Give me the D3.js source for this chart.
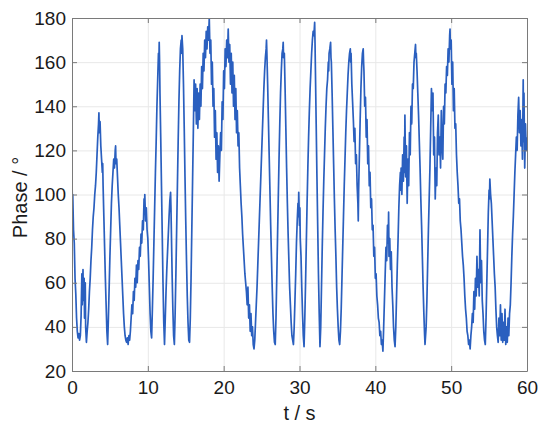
<!DOCTYPE html>
<html>
<head>
<meta charset="utf-8">
<script src="https://cdn.jsdelivr.net/npm/d3@7"></script>
<style>
    body { margin: 0; background: #fff; }
    #chart { width: 550px; height: 431px; }
    text { font-family: "Liberation Sans", Arial, Helvetica, sans-serif; fill: #1a1a1a; }
</style>
</head>
<body>
<div id="chart"></div>
<script>
// axis ticks
var xTicks = [0, 10, 20, 30, 40, 50, 60];
var yTicks = [20, 40, 60, 80, 100, 120, 140, 160, 180];

// phase trace: [t (s), phase (deg)]
var phaseTrace = [
    [0,107],[0.05,96],[0.1,100],[0.2,84],[0.3,78],[0.4,62],[0.5,55],[0.6,44],[0.7,38],[0.8,35],
    [0.9,37],[1.0,34],[1.1,36],[1.2,45],[1.3,64],[1.35,50],[1.45,66],[1.5,52],[1.6,62],[1.65,44],
    [1.75,60],[1.8,40],[1.9,33],[2.0,38],
    [2.1,42],[2.2,48],[2.3,56],[2.4,62],[2.5,70],[2.6,76],[2.7,84],[2.8,90],[2.9,94],[3.0,100],
    [3.1,104],[3.2,110],[3.3,118],[3.4,126],[3.5,132],[3.55,137],[3.6,128],[3.7,133],[3.8,122],[3.9,116],
    [4.0,110],[4.05,114],[4.1,104],[4.2,90],[4.3,76],[4.4,62],[4.5,50],[4.6,38],[4.7,32],
    [4.8,44],[4.9,58],[5.0,72],[5.1,84],[5.2,96],[5.3,104],[5.4,110],[5.5,116],[5.6,112],[5.7,120],
    [5.75,122],[5.8,114],[5.9,116],[6.0,108],[6.1,100],[6.2,94],[6.3,86],[6.4,78],[6.5,70],[6.6,62],
    [6.7,54],[6.8,46],[6.9,40],[7.0,36],[7.1,34],[7.2,33],[7.3,35],[7.4,32],[7.5,36],[7.6,34],[7.7,38],
    [7.8,44],[7.9,50],[8.0,46],[8.1,56],[8.2,52],[8.3,62],[8.4,58],[8.5,68],[8.6,60],[8.7,70],
    [8.8,66],[8.9,76],[9.0,72],[9.1,82],[9.2,78],[9.3,88],[9.4,84],[9.5,98],[9.55,92],[9.6,100],
    [9.7,88],[9.8,94],[9.9,84],[10.0,80],[10.1,70],[10.2,58],[10.3,46],[10.4,38],[10.5,35],
    [10.6,48],[10.7,62],[10.8,78],[10.9,94],[11.0,110],[11.1,124],[11.2,140],[11.3,152],[11.4,164],[11.45,158],
    [11.5,169],[11.55,160],[11.6,146],[11.7,126],[11.8,104],[11.9,82],[12.0,60],[12.1,42],[12.2,32],
    [12.3,44],[12.4,56],[12.5,66],[12.6,74],[12.7,82],[12.8,90],[12.9,97],[13.0,101],[13.05,94],[13.1,84],
    [13.2,64],[13.3,48],[13.4,36],[13.5,32],
    [13.6,46],[13.7,64],[13.8,84],[13.9,104],[14.0,124],[14.1,142],[14.2,156],[14.3,166],[14.4,170],[14.45,164],
    [14.5,172],[14.6,166],[14.7,150],[14.8,130],[14.9,108],[15.0,88],[15.1,70],[15.2,54],[15.3,42],[15.4,34],[15.5,33],
    [15.6,44],[15.7,62],[15.8,84],[15.9,106],[16.0,128],[16.1,152],[16.2,138],[16.3,150],[16.4,132],[16.5,148],
    [16.6,130],[16.7,146],[16.8,134],[16.9,150],[17.0,140],[17.1,158],[17.2,148],[17.3,164],[17.4,156],[17.5,170],
    [17.6,162],[17.7,174],[17.8,166],[17.9,176],[18.0,170],[18.1,180],[18.2,164],[18.3,170],[18.4,150],[18.5,160],
    [18.6,140],[18.7,148],[18.8,126],[18.9,138],[19.0,116],[19.1,128],[19.2,110],[19.3,122],[19.4,106],[19.5,118],
    [19.6,128],[19.7,120],[19.8,142],[19.9,134],[20.0,156],[20.1,148],[20.2,166],[20.3,158],[20.4,170],[20.5,162],
    [20.6,175],[20.7,160],[20.8,168],[20.9,150],[21.0,164],[21.1,146],[21.2,160],[21.3,140],[21.4,154],[21.5,134],
    [21.6,148],[21.7,128],[21.8,138],[21.9,122],[22.0,128],
    [22.1,112],[22.2,104],[22.3,96],[22.4,90],[22.5,82],[22.6,76],[22.7,70],[22.8,64],[22.9,60],[23.0,56],
    [23.1,50],[23.2,58],[23.3,44],[23.4,50],[23.5,38],[23.6,46],[23.7,36],[23.8,40],[23.9,32],[24.0,30],[24.1,34],
    [24.2,42],[24.3,50],[24.4,58],[24.5,68],[24.6,78],[24.7,88],[24.8,98],[24.9,108],[25.0,118],[25.1,128],
    [25.2,138],[25.3,148],[25.4,156],[25.5,162],[25.6,166],[25.65,170],[25.7,164],[25.8,150],[25.9,134],[26.0,118],
    [26.1,102],[26.2,86],[26.3,72],[26.4,58],[26.5,46],[26.6,38],[26.7,33],[26.8,32],
    [26.9,44],[27.0,62],[27.1,80],[27.2,98],[27.3,116],[27.4,132],[27.5,146],[27.6,156],[27.7,164],[27.8,166],
    [27.85,169],[27.9,162],[28.0,164],[28.1,148],[28.2,130],[28.3,112],[28.4,96],[28.5,82],[28.6,70],[28.7,58],
    [28.8,50],[28.9,42],[29.0,36],[29.1,34],[29.2,32],
    [29.3,40],[29.4,52],[29.5,64],[29.6,78],[29.7,88],[29.8,96],[29.85,90],[29.9,101],[30.0,86],[30.05,94],
    [30.1,80],[30.2,72],[30.3,58],[30.4,46],[30.5,36],[30.6,31],
    [30.7,44],[30.8,60],[30.9,78],[31.0,96],[31.1,112],[31.2,126],[31.3,138],[31.4,148],[31.5,156],[31.6,164],
    [31.7,170],[31.8,174],[31.9,172],[32.0,178],[32.05,168],[32.1,156],[32.2,132],[32.3,108],[32.4,86],[32.5,64],
    [32.6,46],[32.7,31],
    [32.8,40],[32.9,58],[33.0,76],[33.1,92],[33.2,106],[33.3,118],[33.4,130],[33.5,140],[33.6,148],[33.7,152],
    [33.8,160],[33.85,156],[33.9,164],[34.0,166],[34.1,169],[34.15,162],[34.2,160],[34.3,146],[34.4,130],[34.5,114],
    [34.6,98],[34.7,84],[34.8,72],[34.9,58],[35.0,48],[35.1,40],[35.2,34],[35.3,32],
    [35.4,38],[35.5,48],[35.6,62],[35.7,76],[35.8,90],[35.9,104],[36.0,116],[36.1,128],[36.2,138],[36.3,146],
    [36.4,154],[36.5,160],[36.6,164],[36.7,166],[36.75,160],[36.8,164],[36.9,150],[37.0,142],[37.1,134],[37.2,124],
    [37.3,130],[37.4,114],[37.5,118],[37.6,104],[37.7,96],[37.75,88],[37.8,102],[37.9,118],[38.0,134],[38.1,148],
    [38.2,158],[38.3,164],[38.4,166],[38.45,160],[38.5,156],[38.6,140],[38.7,144],[38.8,126],[38.9,134],[39.0,114],
    [39.1,122],[39.2,104],[39.3,110],[39.4,94],[39.5,98],[39.6,84],[39.7,86],[39.8,72],[39.9,76],[40.0,62],
    [40.1,64],[40.2,54],[40.3,50],[40.4,44],[40.5,42],[40.6,36],[40.7,38],[40.8,32],[40.9,34],[41.0,29],
    [41.1,40],[41.2,52],[41.3,64],[41.4,76],[41.5,70],[41.6,86],[41.7,78],[41.75,92],[41.8,72],[41.9,80],
    [42.0,66],[42.1,74],[42.2,58],[42.3,50],[42.4,40],[42.5,34],[42.6,31],
    [42.7,40],[42.8,54],[42.9,68],[43.0,80],[43.1,94],[43.2,104],[43.3,110],[43.35,102],[43.4,112],[43.5,100],
    [43.6,118],[43.7,106],[43.8,126],[43.85,110],[43.9,136],[44.0,108],[44.1,122],[44.2,96],[44.3,116],[44.4,104],
    [44.5,128],[44.6,118],[44.7,140],[44.8,132],[44.9,150],[45.0,148],[45.1,160],[45.2,164],[45.3,168],[45.35,162],
    [45.4,164],[45.5,156],[45.6,146],[45.7,136],[45.8,124],[45.9,112],[46.0,98],[46.1,86],[46.2,72],[46.3,58],
    [46.4,46],[46.5,36],[46.55,32],
    [46.7,40],[46.8,52],[46.9,68],[47.0,84],[47.1,98],[47.2,112],[47.3,130],[47.4,148],[47.5,138],[47.6,146],
    [47.7,118],[47.8,126],[47.9,98],[48.0,112],[48.1,104],[48.2,128],[48.3,136],[48.4,118],[48.5,126],[48.6,112],
    [48.7,138],[48.8,122],[48.9,116],[49.0,140],[49.1,132],[49.2,150],[49.3,146],[49.4,158],[49.5,154],[49.6,166],
    [49.7,160],[49.8,172],[49.85,175],[49.9,166],[50.0,170],[50.1,150],[50.2,160],[50.3,138],[50.4,148],[50.5,130],
    [50.6,132],[50.7,118],[50.8,110],[50.9,104],[51.0,96],[51.1,98],[51.2,88],[51.3,84],[51.4,78],[51.5,72],
    [51.6,68],[51.7,62],[51.8,54],[51.9,48],[52.0,44],[52.1,38],[52.2,36],[52.3,32],[52.4,34],[52.5,30],[52.6,36],
    [52.7,40],[52.8,46],[52.9,42],[53.0,56],[53.1,48],[53.2,62],[53.3,54],[53.4,72],[53.5,58],[53.6,66],
    [53.7,54],[53.8,84],[53.9,60],[54.0,70],[54.1,52],[54.2,46],[54.3,38],[54.4,34],[54.5,32],
    [54.6,44],[54.7,60],[54.8,76],[54.9,92],[55.0,102],[55.05,98],[55.1,107],[55.2,100],[55.3,96],[55.4,88],
    [55.5,80],[55.6,72],[55.7,64],[55.8,58],[55.9,48],[56.0,40],[56.1,36],[56.2,33],
    [56.3,44],[56.4,36],[56.5,50],[56.6,34],[56.7,46],[56.8,33],[56.9,42],[57.0,34],[57.1,48],[57.2,32],
    [57.3,40],[57.4,33],[57.5,44],[57.6,36],[57.7,46],
    [57.8,50],[57.9,60],[58.0,72],[58.1,82],[58.2,90],[58.3,100],[58.4,110],[58.5,118],[58.6,126],[58.7,120],
    [58.8,136],[58.9,144],[59.0,128],[59.1,138],[59.2,122],[59.3,134],[59.4,116],[59.5,152],[59.55,124],[59.6,146],
    [59.7,112],[59.8,132],[59.9,120],[60.0,126]
];

var cwidth = 550, cheight = 431;
var margin = {top: 18, right: 23, bottom: 60, left: 72}
    , width = cwidth - margin.left - margin.right
    , height = cheight - margin.top - margin.bottom;

var xScale = d3.scaleLinear().domain([0, 60]).range([0, width]);
var yScale = d3.scaleLinear().domain([20, 180]).range([height, 0]);

var valueLine = d3.line()
    .x(function(d) { return xScale(d[0]); })
    .y(function(d) { return yScale(d[1]); });

var svg = d3.select("#chart").append("svg")
    .attr("width", cwidth)
    .attr("height", cheight)
    .append("g")
    .attr("transform", "translate(" + margin.left + "," + margin.top + ")");

// grid
svg.append("g").attr("class", "grid")
    .attr("transform", "translate(0," + height + ")")
    .call(d3.axisBottom(xScale).tickValues(xTicks).tickSize(-height).tickFormat(""));
svg.append("g").attr("class", "grid")
    .call(d3.axisLeft(yScale).tickValues(yTicks).tickSize(-width).tickFormat(""));
svg.selectAll(".grid .domain").remove();
svg.selectAll(".grid line").attr("stroke", "#e8e8e8").attr("stroke-width", 1);

svg.append("clipPath").attr("id", "plot-clip")
    .append("rect").attr("width", width).attr("height", height);

svg.append("path")
    .datum(phaseTrace)
    .attr("clip-path", "url(#plot-clip)")
    .attr("d", valueLine)
    .attr("fill", "none")
    .attr("stroke", "#2a5fbf")
    .attr("stroke-width", 1.7)
    .attr("stroke-linejoin", "round");

// box axes, ticks pointing inward
var xAxis = svg.append("g").attr("class", "axis")
    .attr("transform", "translate(0," + height + ")")
    .call(d3.axisBottom(xScale).tickValues(xTicks).tickSizeInner(-5).tickSizeOuter(0).tickPadding(10));
var yAxis = svg.append("g").attr("class", "axis")
    .call(d3.axisLeft(yScale).tickValues(yTicks).tickSizeInner(-5).tickSizeOuter(0).tickPadding(6));
svg.append("g").attr("class", "axis")
    .call(d3.axisTop(xScale).tickValues(xTicks).tickSizeInner(-5).tickSizeOuter(0).tickFormat(""));
svg.append("g").attr("class", "axis")
    .attr("transform", "translate(" + width + ",0)")
    .call(d3.axisRight(yScale).tickValues(yTicks).tickSizeInner(-5).tickSizeOuter(0).tickFormat(""));
svg.selectAll(".axis .domain").attr("stroke", "#7a7a7a");
svg.selectAll(".axis line").attr("stroke", "#7a7a7a");
svg.selectAll(".axis text").attr("font-size", 19).attr("fill", "#1a1a1a")
    .attr("font-family", "'Liberation Sans', Arial, Helvetica, sans-serif");

svg.append("text").attr("id", "x label")
    .attr("text-anchor", "middle")
    .attr("x", width / 2)
    .attr("y", height + 49)
    .attr("font-size", 20)
    .text("t / s");

svg.append("text").attr("id", "y label")
    .attr("text-anchor", "middle")
    .attr("transform", "translate(" + (-45) + "," + (height / 2 + 3) + ") rotate(-90)")
    .attr("font-size", 20)
    .text("Phase / °");
</script>
</body>
</html>
